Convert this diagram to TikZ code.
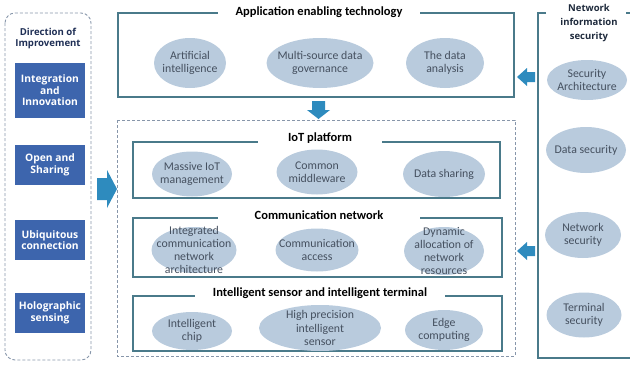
\documentclass[tikz,border=0pt]{standalone}
\usepackage{fontspec}
\setmainfont{Carlito}
\newfontfamily\headfont{Open Sans}
\usetikzlibrary{shapes.geometric}

\definecolor{boxline}{HTML}{4A7A8A}
\definecolor{dashline}{HTML}{8796AA}
\definecolor{ovalfill}{HTML}{B9CBDD}
\definecolor{ovalink}{HTML}{45505F}
\definecolor{dirblue}{HTML}{3D65AD}
\definecolor{arrowblue}{HTML}{2E8BBE}
\definecolor{headink}{HTML}{1E2A3C}
\definecolor{dirink}{HTML}{1F2F55}

\begin{document}
\begin{tikzpicture}[x=1pt,y=-1pt,
  panelbox/.style={draw=boxline, line width=1.1pt},
  dashbox/.style={draw=dashline, line width=0.9pt, dash pattern=on 3pt off 2pt},
  oval/.style 2 args={ellipse, fill=ovalfill, draw=none, inner sep=0pt,
    minimum width=#1, minimum height=#2},
  otext/.style={font=\fontsize{11.8}{13.2}\selectfont, text=ovalink, align=center, inner sep=0pt},
  title/.style={fill=white, inner xsep=#1, inner ysep=1pt, text=black,
    font=\bfseries\fontsize{12.5}{14}\selectfont},
  dirbox/.style={fill=dirblue, text=white, minimum width=70pt, inner sep=0pt,
    font=\headfont\bfseries\fontsize{10.3}{11.5}\selectfont, align=center},
  sidehead/.style={text=headink, align=center, inner sep=0pt},
  blockarrow/.style={fill=arrowblue}
]
\useasboundingbox (0,0) rectangle (630,367);

% ---------- left column: direction of improvement ----------
\draw[dashbox, rounded corners=10pt] (5,13) rectangle (91,360);
\node[sidehead, text=dirink, font=\headfont\bfseries\fontsize{9.6}{11}\selectfont] (dirtitle) at (48,38)
  {Direction of\\Improvement};
\node[dirbox, minimum height=55pt] (d1) at (50,90.5) {Integration\\and\\Innovation};
\node[dirbox, minimum height=40pt] (d2) at (50,165) {Open and\\Sharing};
\node[dirbox, minimum height=40pt] (d3) at (50,240) {Ubiquitous\\connection};
\node[dirbox, minimum height=40pt] (d4) at (50,313) {Holographic\\sensing};

% arrow from the left column into the platform stack
\fill[blockarrow] (97,178) -- (107,178) -- (107,170) -- (117,189) -- (107,208)
  -- (107,200) -- (97,200) -- cycle;

% ---------- application enabling technology ----------
\draw[panelbox] (118,13) rectangle (514,97);
\node[title=18pt] (apptitle) at (319,12) {Application enabling technology};
\node[oval={72pt}{50pt}] (ai) at (190,63) {};
\node[otext] at (ai) {Artificial\\intelligence};
\node[oval={107pt}{50pt}] (msdg) at (320,63) {};
\node[otext] at (msdg) {Multi-source data\\governance};
\node[oval={78pt}{50pt}] (tda) at (445,63) {};
\node[otext] at (tda) {The data\\analysis};

% downward arrow into the platform stack
\fill[blockarrow] (312,101) -- (325,101) -- (325,110) -- (330,110) -- (318.5,119)
  -- (307,110) -- (312,110) -- cycle;

% ---------- platform stack ----------
\draw[dashbox] (117,120) rectangle (515,356);

% IoT platform
\draw[panelbox] (133,142) rectangle (500,198);
\node[title=30pt] (iottitle) at (320,138) {IoT platform};
\node[oval={80pt}{45pt}] (miot) at (192,174) {};
\node[otext] at (miot) {Massive IoT\\management};
\node[oval={81pt}{45pt}] (cmw) at (317,172) {};
\node[otext] at (cmw) {Common\\middleware};
\node[oval={82pt}{46pt}] (dsh) at (444,174) {};
\node[otext] at (dsh) {Data sharing};

% communication network
\draw[panelbox] (133,218) rectangle (502,277);
\node[title=37pt] (comtitle) at (319,215) {Communication network};
\node[oval={85pt}{46pt}] (icna) at (194,250) {};
\node[otext] at (icna) {Integrated\\communication\\network\\architecture};
\node[oval={83pt}{43pt}] (cacc) at (317,250) {};
\node[otext] at (cacc) {Communication\\access};
\node[oval={80pt}{48pt}] (danr) at (444,251) {};
\node[otext] at (danr) {Dynamic\\allocation of\\network\\resources};

% intelligent sensor and intelligent terminal
\draw[panelbox] (133,296) rectangle (502,351);
\node[title=18pt] (sentitle) at (320,293) {Intelligent sensor and intelligent terminal};
\node[oval={80pt}{38pt}] (ichip) at (192,331) {};
\node[otext] at (ichip) {Intelligent\\chip};
\node[oval={122pt}{46pt}] (hpis) at (320,328) {};
\node[otext] at (hpis) {High precision\\intelligent\\sensor};
\node[oval={78pt}{40pt}] (edge) at (444,330) {};
\node[otext] at (edge) {Edge\\computing};

% ---------- right column: network information security ----------
\draw[panelbox] (546,13) -- (538,13) -- (538,358) -- (630,358);
\draw[panelbox] (626,13) -- (630,13);
\node[sidehead, font=\headfont\bfseries\fontsize{9.5}{14}\selectfont] (sectitle) at (589,23)
  {Network\\information\\security};
\node[oval={80pt}{40pt}] (sarch) at (587,80) {};
\node[otext] at (sarch) {Security\\Architecture};
\node[oval={80pt}{46pt}] (dsec) at (586,150) {};
\node[otext] at (dsec) {Data security};
\node[oval={76pt}{46pt}] (nsec) at (583,235) {};
\node[otext] at (nsec) {Network\\security};
\node[oval={75pt}{45pt}] (tsec) at (584,315) {};
\node[otext] at (tsec) {Terminal\\security};

% arrows from the security column
\fill[blockarrow] (535,72) -- (527,72) -- (527,68) -- (517,77) -- (527,86)
  -- (527,82) -- (535,82) -- cycle;
\fill[blockarrow] (535,246) -- (527,246) -- (527,242) -- (517,251) -- (527,260)
  -- (527,256) -- (535,256) -- cycle;
\end{tikzpicture}
\end{document}
